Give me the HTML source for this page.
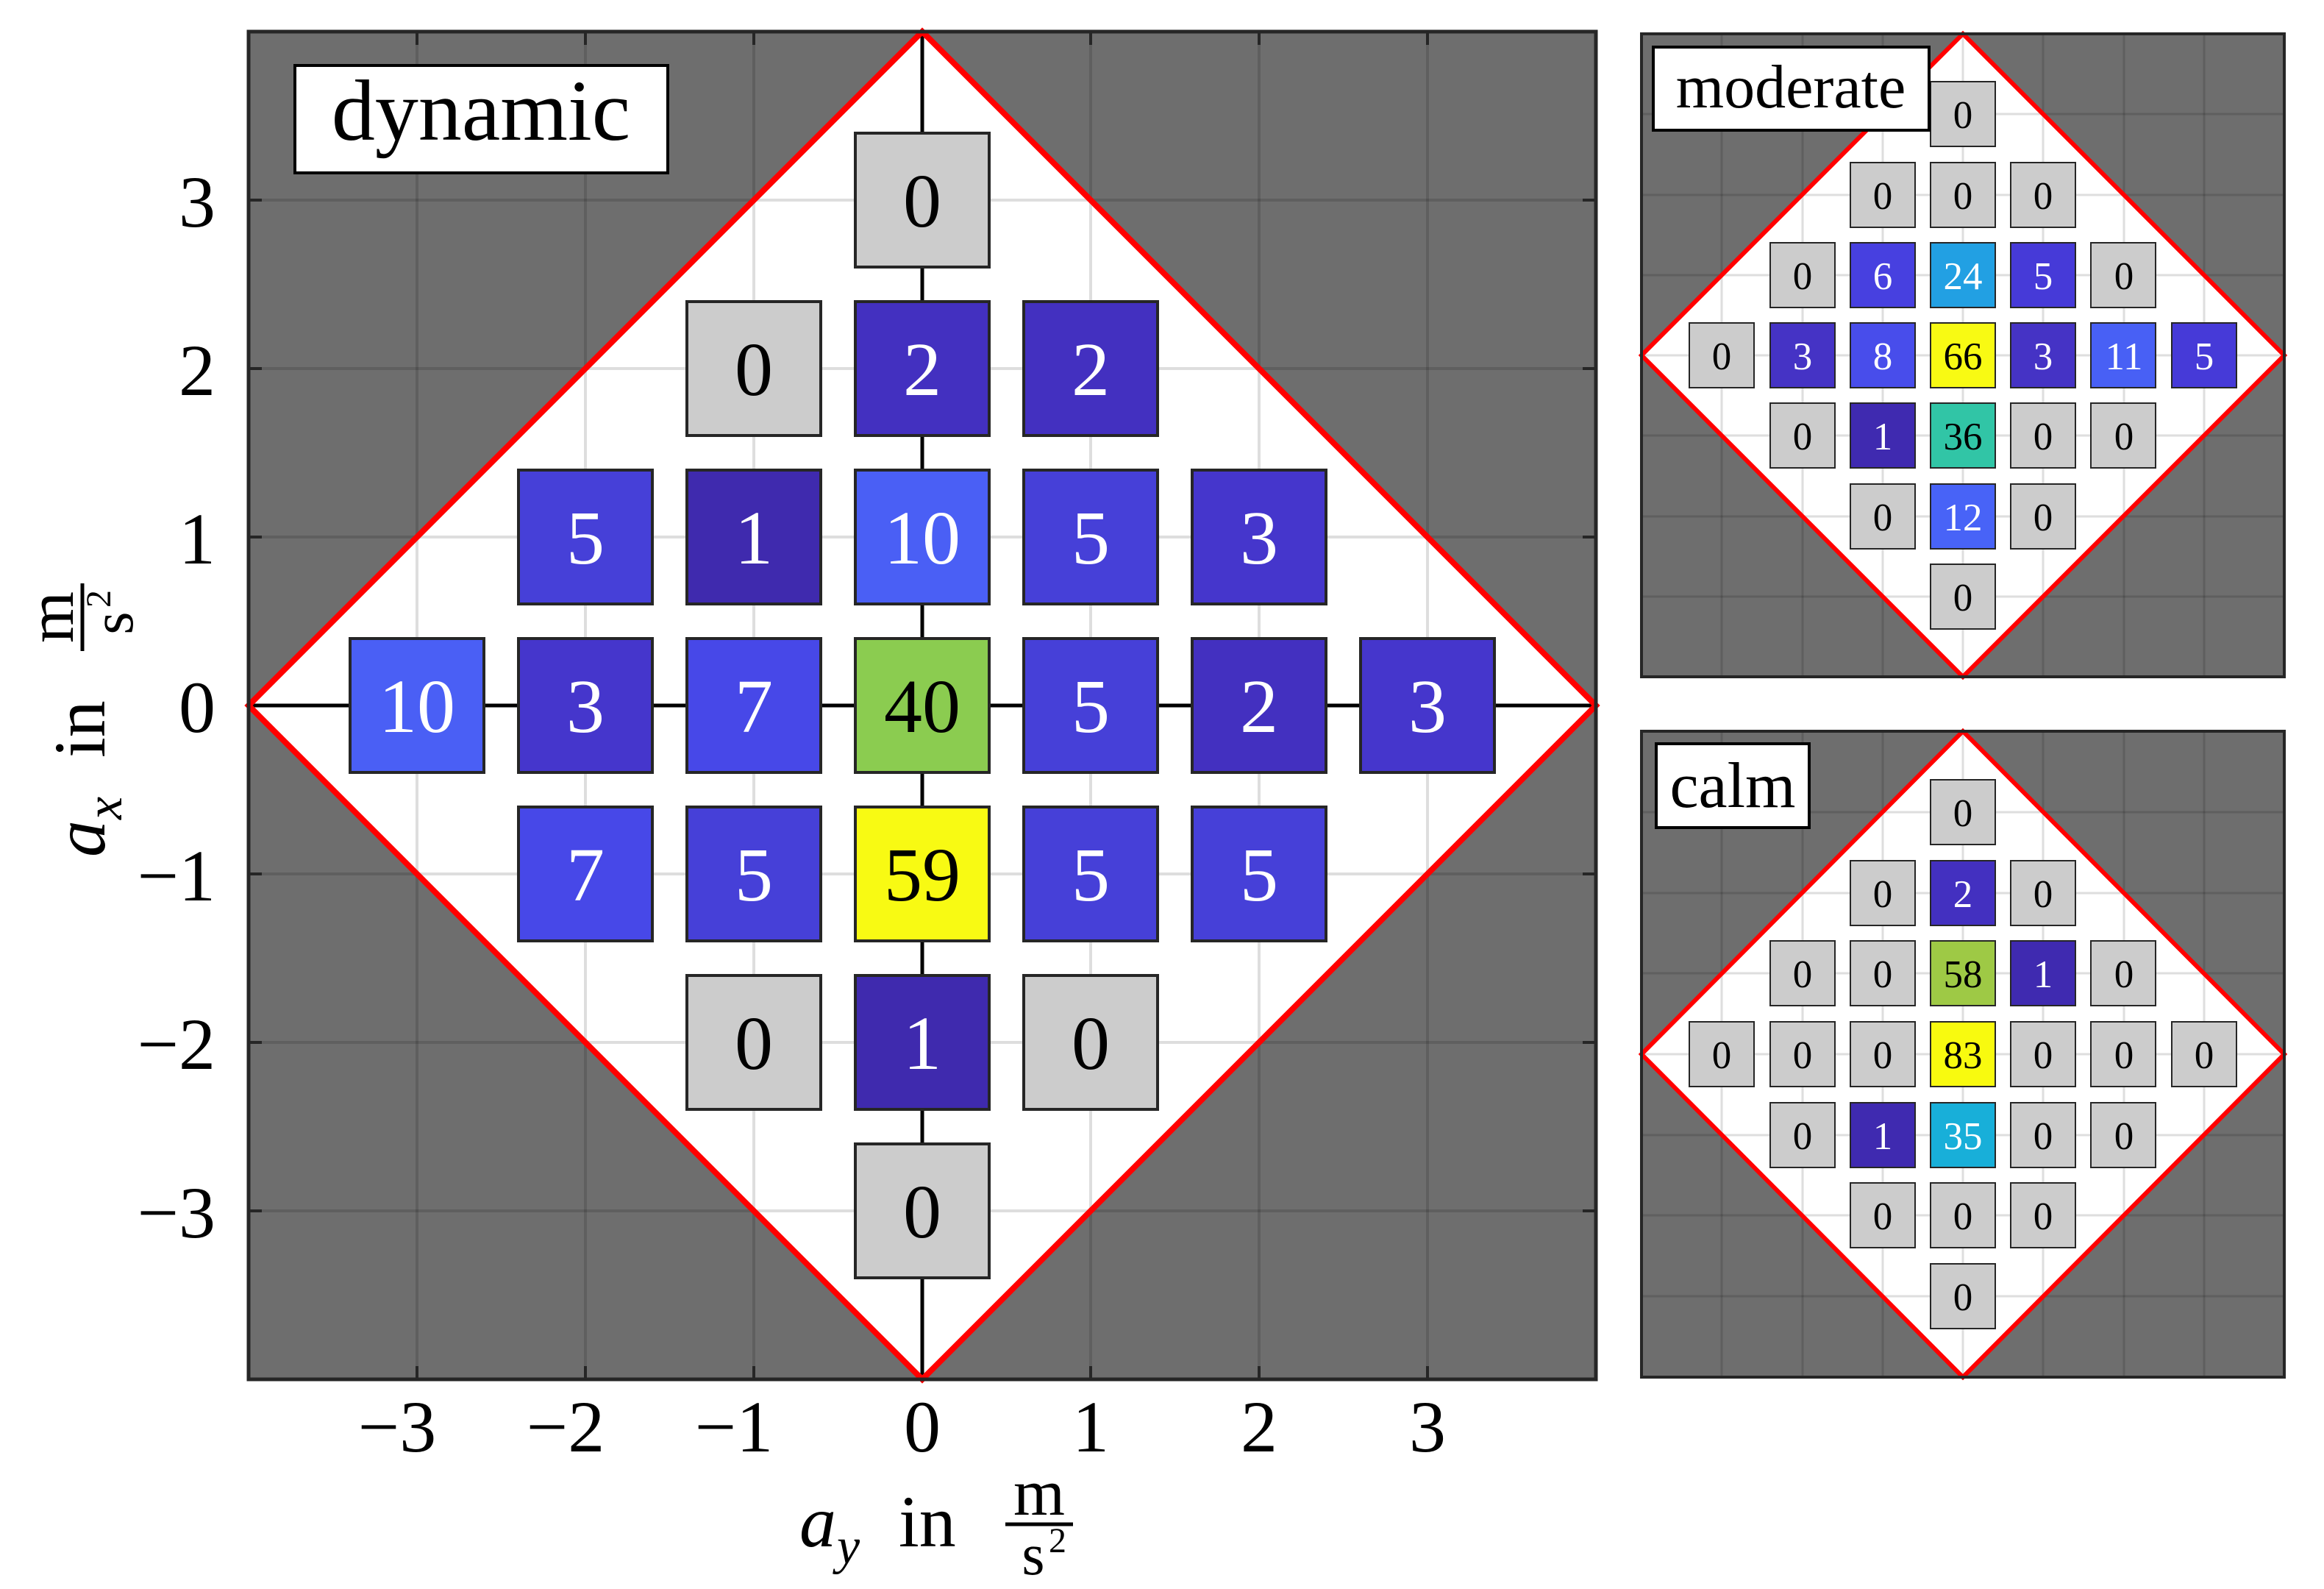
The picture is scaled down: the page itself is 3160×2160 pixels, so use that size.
<!DOCTYPE html>
<html><head><meta charset="utf-8"><style>
html,body{margin:0;padding:0;background:#fff;}
svg{display:block;}
text{font-family:"Liberation Serif",serif;}
</style></head><body>
<svg width="3160" height="2160" viewBox="0 0 3160 2160" xmlns="http://www.w3.org/2000/svg">
<!-- MAIN PANEL -->
<rect x="338" y="43" width="1832" height="1832" fill="#6e6e6e"/>
<polygon points="1254,43 2170,959 1254,1875 338,959" fill="#fff"/>
<g stroke="#000" stroke-opacity="0.13" stroke-width="4">
<line x1="567" y1="43" x2="567" y2="1875"/><line x1="796" y1="43" x2="796" y2="1875"/><line x1="1025" y1="43" x2="1025" y2="1875"/><line x1="1483" y1="43" x2="1483" y2="1875"/><line x1="1712" y1="43" x2="1712" y2="1875"/><line x1="1941" y1="43" x2="1941" y2="1875"/>
<line x1="338" y1="272" x2="2170" y2="272"/><line x1="338" y1="501" x2="2170" y2="501"/><line x1="338" y1="730" x2="2170" y2="730"/><line x1="338" y1="1188" x2="2170" y2="1188"/><line x1="338" y1="1417" x2="2170" y2="1417"/><line x1="338" y1="1646" x2="2170" y2="1646"/>
</g>
<g stroke="#000" stroke-width="5"><line x1="1254" y1="43" x2="1254" y2="1875"/><line x1="338" y1="959" x2="2170" y2="959"/></g>
<g stroke="#262626" stroke-width="4">
<line x1="567" y1="1875" x2="567" y2="1857"/><line x1="796" y1="1875" x2="796" y2="1857"/><line x1="1025" y1="1875" x2="1025" y2="1857"/><line x1="1483" y1="1875" x2="1483" y2="1857"/><line x1="1712" y1="1875" x2="1712" y2="1857"/><line x1="1941" y1="1875" x2="1941" y2="1857"/>
<line x1="567" y1="43" x2="567" y2="61"/><line x1="796" y1="43" x2="796" y2="61"/><line x1="1025" y1="43" x2="1025" y2="61"/><line x1="1483" y1="43" x2="1483" y2="61"/><line x1="1712" y1="43" x2="1712" y2="61"/><line x1="1941" y1="43" x2="1941" y2="61"/>
<line x1="338" y1="272" x2="356" y2="272"/><line x1="338" y1="501" x2="356" y2="501"/><line x1="338" y1="730" x2="356" y2="730"/><line x1="338" y1="1188" x2="356" y2="1188"/><line x1="338" y1="1417" x2="356" y2="1417"/><line x1="338" y1="1646" x2="356" y2="1646"/>
<line x1="2170" y1="272" x2="2152" y2="272"/><line x1="2170" y1="501" x2="2152" y2="501"/><line x1="2170" y1="730" x2="2152" y2="730"/><line x1="2170" y1="1188" x2="2152" y2="1188"/><line x1="2170" y1="1417" x2="2152" y2="1417"/><line x1="2170" y1="1646" x2="2152" y2="1646"/>
</g>
<g stroke="#262626" stroke-width="4">
<rect x="1163" y="181" width="182" height="182" fill="#cccccc"/>
<rect x="934" y="410" width="182" height="182" fill="#cccccc"/>
<rect x="1163" y="410" width="182" height="182" fill="#4330c0"/>
<rect x="1392" y="410" width="182" height="182" fill="#4330c0"/>
<rect x="705" y="639" width="182" height="182" fill="#4640d8"/>
<rect x="934" y="639" width="182" height="182" fill="#3f2aae"/>
<rect x="1163" y="639" width="182" height="182" fill="#4a5ff5"/>
<rect x="1392" y="639" width="182" height="182" fill="#4640d8"/>
<rect x="1621" y="639" width="182" height="182" fill="#4536cc"/>
<rect x="476" y="868" width="182" height="182" fill="#4a5ff5"/>
<rect x="705" y="868" width="182" height="182" fill="#4536cc"/>
<rect x="934" y="868" width="182" height="182" fill="#4748e8"/>
<rect x="1163" y="868" width="182" height="182" fill="#8bcc50"/>
<rect x="1392" y="868" width="182" height="182" fill="#4640d8"/>
<rect x="1621" y="868" width="182" height="182" fill="#4330c0"/>
<rect x="1850" y="868" width="182" height="182" fill="#4536cc"/>
<rect x="705" y="1097" width="182" height="182" fill="#4748e8"/>
<rect x="934" y="1097" width="182" height="182" fill="#4640d8"/>
<rect x="1163" y="1097" width="182" height="182" fill="#f8fa13"/>
<rect x="1392" y="1097" width="182" height="182" fill="#4640d8"/>
<rect x="1621" y="1097" width="182" height="182" fill="#4640d8"/>
<rect x="934" y="1326" width="182" height="182" fill="#cccccc"/>
<rect x="1163" y="1326" width="182" height="182" fill="#3f2aae"/>
<rect x="1392" y="1326" width="182" height="182" fill="#cccccc"/>
<rect x="1163" y="1555" width="182" height="182" fill="#cccccc"/>
</g>
<g font-size="104" text-anchor="middle">
<text x="1254" y="308">0</text>
<text x="1025" y="537">0</text>
<text x="1254" y="537" fill="#fff">2</text>
<text x="1483" y="537" fill="#fff">2</text>
<text x="796" y="766" fill="#fff">5</text>
<text x="1025" y="766" fill="#fff">1</text>
<text x="1254" y="766" fill="#fff">10</text>
<text x="1483" y="766" fill="#fff">5</text>
<text x="1712" y="766" fill="#fff">3</text>
<text x="567" y="995" fill="#fff">10</text>
<text x="796" y="995" fill="#fff">3</text>
<text x="1025" y="995" fill="#fff">7</text>
<text x="1254" y="995">40</text>
<text x="1483" y="995" fill="#fff">5</text>
<text x="1712" y="995" fill="#fff">2</text>
<text x="1941" y="995" fill="#fff">3</text>
<text x="796" y="1224" fill="#fff">7</text>
<text x="1025" y="1224" fill="#fff">5</text>
<text x="1254" y="1224">59</text>
<text x="1483" y="1224" fill="#fff">5</text>
<text x="1712" y="1224" fill="#fff">5</text>
<text x="1025" y="1453">0</text>
<text x="1254" y="1453" fill="#fff">1</text>
<text x="1483" y="1453">0</text>
<text x="1254" y="1682">0</text>
</g>
<polygon points="1254,43 2170,959 1254,1875 338,959" fill="none" stroke="#ff0000" stroke-width="8"/>
<rect x="338" y="43" width="1832" height="1832" fill="none" stroke="#262626" stroke-width="5"/>
<rect x="401" y="89" width="507" height="146" fill="#fff" stroke="#000" stroke-width="4"/>
<text x="654" y="190" font-size="118" text-anchor="middle">dynamic</text>
<!-- tick labels -->
<g font-size="100" text-anchor="middle">
<text x="540" y="1973">−3</text><text x="769" y="1973">−2</text><text x="998" y="1973">−1</text><text x="1254" y="1973">0</text><text x="1483" y="1973">1</text><text x="1712" y="1973">2</text><text x="1941" y="1973">3</text>
</g>
<g font-size="100" text-anchor="end">
<text x="293" y="308">3</text><text x="293" y="537">2</text><text x="293" y="766">1</text><text x="293" y="995">0</text><text x="293" y="1224">−1</text><text x="293" y="1453">−2</text><text x="293" y="1682">−3</text>
</g>
<!-- x label -->
<text x="1087" y="2102" font-size="100" font-style="italic">a</text>
<text x="1138" y="2125" font-size="70" font-style="italic">y</text>
<text x="1222" y="2102" font-size="100">in</text>
<text x="1413" y="2059" font-size="90" text-anchor="middle">m</text>
<line x1="1367" y1="2072" x2="1459" y2="2072" stroke="#000" stroke-width="5"/>
<text x="1405" y="2140" font-size="80" text-anchor="middle">s</text>
<text x="1438" y="2110" font-size="48" text-anchor="middle">2</text>
<!-- y label -->
<g transform="rotate(-90 0 0)">
<text x="-1165" y="142" font-size="100" font-style="italic">a</text>
<text x="-1114" y="165" font-size="70" font-style="italic">x</text>
<text x="-1030" y="142" font-size="100">in</text>
<text x="-839" y="99" font-size="90" text-anchor="middle">m</text>
<line x1="-885" y1="112" x2="-793" y2="112" stroke="#000" stroke-width="5"/>
<text x="-847" y="180" font-size="80" text-anchor="middle">s</text>
<text x="-814" y="150" font-size="48" text-anchor="middle">2</text>
</g>

<!-- MODERATE PANEL -->
<rect x="2232" y="46" width="874" height="874" fill="#6e6e6e"/>
<polygon points="2669,46 3106,483 2669,920 2232,483" fill="#fff"/>
<g stroke="#000" stroke-opacity="0.13" stroke-width="3">
<line x1="2341" y1="46" x2="2341" y2="920"/><line x1="2451" y1="46" x2="2451" y2="920"/><line x1="2560" y1="46" x2="2560" y2="920"/><line x1="2669" y1="46" x2="2669" y2="920"/><line x1="2778" y1="46" x2="2778" y2="920"/><line x1="2888" y1="46" x2="2888" y2="920"/><line x1="2997" y1="46" x2="2997" y2="920"/>
<line x1="2232" y1="155" x2="3106" y2="155"/><line x1="2232" y1="265" x2="3106" y2="265"/><line x1="2232" y1="374" x2="3106" y2="374"/><line x1="2232" y1="483" x2="3106" y2="483"/><line x1="2232" y1="592" x2="3106" y2="592"/><line x1="2232" y1="702" x2="3106" y2="702"/><line x1="2232" y1="811" x2="3106" y2="811"/>
</g>
<g stroke="#262626" stroke-width="2">
<rect x="2625" y="111" width="88" height="88" fill="#cccccc"/>
<rect x="2516" y="221" width="88" height="88" fill="#cccccc"/>
<rect x="2625" y="221" width="88" height="88" fill="#cccccc"/>
<rect x="2734" y="221" width="88" height="88" fill="#cccccc"/>
<rect x="2407" y="330" width="88" height="88" fill="#cccccc"/>
<rect x="2516" y="330" width="88" height="88" fill="#4740e0"/>
<rect x="2625" y="330" width="88" height="88" fill="#22a0e3"/>
<rect x="2734" y="330" width="88" height="88" fill="#463ad8"/>
<rect x="2843" y="330" width="88" height="88" fill="#cccccc"/>
<rect x="2297" y="439" width="88" height="88" fill="#cccccc"/>
<rect x="2407" y="439" width="88" height="88" fill="#4533c5"/>
<rect x="2516" y="439" width="88" height="88" fill="#484deb"/>
<rect x="2625" y="439" width="88" height="88" fill="#f8fa13"/>
<rect x="2734" y="439" width="88" height="88" fill="#4533c5"/>
<rect x="2843" y="439" width="88" height="88" fill="#4860f5"/>
<rect x="2953" y="439" width="88" height="88" fill="#463ad8"/>
<rect x="2407" y="548" width="88" height="88" fill="#cccccc"/>
<rect x="2516" y="548" width="88" height="88" fill="#3f2ab0"/>
<rect x="2625" y="548" width="88" height="88" fill="#31c5a6"/>
<rect x="2734" y="548" width="88" height="88" fill="#cccccc"/>
<rect x="2843" y="548" width="88" height="88" fill="#cccccc"/>
<rect x="2516" y="658" width="88" height="88" fill="#cccccc"/>
<rect x="2625" y="658" width="88" height="88" fill="#4863f7"/>
<rect x="2734" y="658" width="88" height="88" fill="#cccccc"/>
<rect x="2625" y="767" width="88" height="88" fill="#cccccc"/>
</g>
<g font-size="53" text-anchor="middle">
<text x="2669" y="174">0</text>
<text x="2560" y="284">0</text><text x="2669" y="284">0</text><text x="2778" y="284">0</text>
<text x="2451" y="393">0</text><text x="2560" y="393" fill="#fff">6</text><text x="2669" y="393" fill="#fff">24</text><text x="2778" y="393" fill="#fff">5</text><text x="2888" y="393">0</text>
<text x="2341" y="502">0</text><text x="2451" y="502" fill="#fff">3</text><text x="2560" y="502" fill="#fff">8</text><text x="2669" y="502">66</text><text x="2778" y="502" fill="#fff">3</text><text x="2888" y="502" fill="#fff">11</text><text x="2997" y="502" fill="#fff">5</text>
<text x="2451" y="611">0</text><text x="2560" y="611" fill="#fff">1</text><text x="2669" y="611">36</text><text x="2778" y="611">0</text><text x="2888" y="611">0</text>
<text x="2560" y="721">0</text><text x="2669" y="721" fill="#fff">12</text><text x="2778" y="721">0</text>
<text x="2669" y="830">0</text>
</g>
<polygon points="2669,46 3106,483 2669,920 2232,483" fill="none" stroke="#ff0000" stroke-width="6"/>
<rect x="2232" y="46" width="874" height="874" fill="none" stroke="#262626" stroke-width="4"/>
<rect x="2248" y="64" width="375" height="113" fill="#fff" stroke="#000" stroke-width="4"/>
<text x="2435" y="146" font-size="84" text-anchor="middle">moderate</text>

<!-- CALM PANEL -->
<rect x="2232" y="994" width="874" height="878" fill="#6e6e6e"/>
<polygon points="2669,994 3106,1433 2669,1872 2232,1433" fill="#fff"/>
<g stroke="#000" stroke-opacity="0.13" stroke-width="3">
<line x1="2341" y1="994" x2="2341" y2="1872"/><line x1="2451" y1="994" x2="2451" y2="1872"/><line x1="2560" y1="994" x2="2560" y2="1872"/><line x1="2669" y1="994" x2="2669" y2="1872"/><line x1="2778" y1="994" x2="2778" y2="1872"/><line x1="2888" y1="994" x2="2888" y2="1872"/><line x1="2997" y1="994" x2="2997" y2="1872"/>
<line x1="2232" y1="1104" x2="3106" y2="1104"/><line x1="2232" y1="1214" x2="3106" y2="1214"/><line x1="2232" y1="1323" x2="3106" y2="1323"/><line x1="2232" y1="1433" x2="3106" y2="1433"/><line x1="2232" y1="1543" x2="3106" y2="1543"/><line x1="2232" y1="1652" x2="3106" y2="1652"/><line x1="2232" y1="1762" x2="3106" y2="1762"/>
</g>
<g stroke="#262626" stroke-width="2">
<rect x="2625" y="1060" width="88" height="88" fill="#cccccc"/>
<rect x="2516" y="1170" width="88" height="88" fill="#cccccc"/>
<rect x="2625" y="1170" width="88" height="88" fill="#4330c0"/>
<rect x="2734" y="1170" width="88" height="88" fill="#cccccc"/>
<rect x="2407" y="1279" width="88" height="88" fill="#cccccc"/>
<rect x="2516" y="1279" width="88" height="88" fill="#cccccc"/>
<rect x="2625" y="1279" width="88" height="88" fill="#9ec945"/>
<rect x="2734" y="1279" width="88" height="88" fill="#3f2ab0"/>
<rect x="2843" y="1279" width="88" height="88" fill="#cccccc"/>
<rect x="2297" y="1389" width="88" height="88" fill="#cccccc"/>
<rect x="2407" y="1389" width="88" height="88" fill="#cccccc"/>
<rect x="2516" y="1389" width="88" height="88" fill="#cccccc"/>
<rect x="2625" y="1389" width="88" height="88" fill="#f8fa0f"/>
<rect x="2734" y="1389" width="88" height="88" fill="#cccccc"/>
<rect x="2843" y="1389" width="88" height="88" fill="#cccccc"/>
<rect x="2953" y="1389" width="88" height="88" fill="#cccccc"/>
<rect x="2407" y="1499" width="88" height="88" fill="#cccccc"/>
<rect x="2516" y="1499" width="88" height="88" fill="#3f2ab0"/>
<rect x="2625" y="1499" width="88" height="88" fill="#18afd9"/>
<rect x="2734" y="1499" width="88" height="88" fill="#cccccc"/>
<rect x="2843" y="1499" width="88" height="88" fill="#cccccc"/>
<rect x="2516" y="1608" width="88" height="88" fill="#cccccc"/>
<rect x="2625" y="1608" width="88" height="88" fill="#cccccc"/>
<rect x="2734" y="1608" width="88" height="88" fill="#cccccc"/>
<rect x="2625" y="1718" width="88" height="88" fill="#cccccc"/>
</g>
<g font-size="53" text-anchor="middle">
<text x="2669" y="1123">0</text>
<text x="2560" y="1233">0</text><text x="2669" y="1233" fill="#fff">2</text><text x="2778" y="1233">0</text>
<text x="2451" y="1342">0</text><text x="2560" y="1342">0</text><text x="2669" y="1342">58</text><text x="2778" y="1342" fill="#fff">1</text><text x="2888" y="1342">0</text>
<text x="2341" y="1452">0</text><text x="2451" y="1452">0</text><text x="2560" y="1452">0</text><text x="2669" y="1452">83</text><text x="2778" y="1452">0</text><text x="2888" y="1452">0</text><text x="2997" y="1452">0</text>
<text x="2451" y="1562">0</text><text x="2560" y="1562" fill="#fff">1</text><text x="2669" y="1562" fill="#fff">35</text><text x="2778" y="1562">0</text><text x="2888" y="1562">0</text>
<text x="2560" y="1671">0</text><text x="2669" y="1671">0</text><text x="2778" y="1671">0</text>
<text x="2669" y="1781">0</text>
</g>
<polygon points="2669,994 3106,1433 2669,1872 2232,1433" fill="none" stroke="#ff0000" stroke-width="6"/>
<rect x="2232" y="994" width="874" height="878" fill="none" stroke="#262626" stroke-width="4"/>
<rect x="2252" y="1011" width="208" height="114" fill="#fff" stroke="#000" stroke-width="4"/>
<text x="2356" y="1097" font-size="88" text-anchor="middle">calm</text>
</svg>
</body></html>
